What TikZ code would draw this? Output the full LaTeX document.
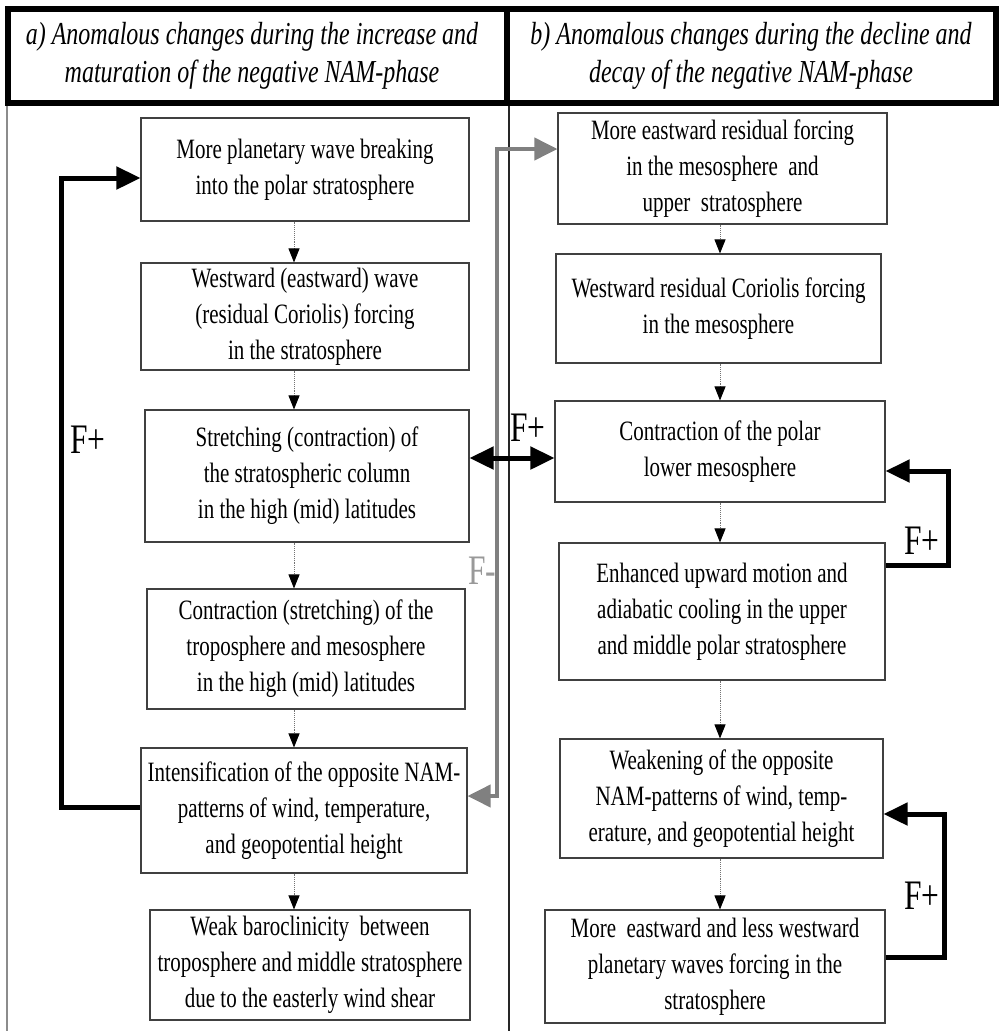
\documentclass[tikz,border=0pt]{standalone}
\usepackage{fontspec}
\setmainfont{Liberation Serif}[FakeStretch=0.75]
\usetikzlibrary{arrows.meta}
\tikzset{
  box/.style={draw=black!75, line width=1.1pt, align=center, inner sep=0pt, font=\fontsize{28}{36}\selectfont},
  hdr/.style={align=center, inner sep=0pt, font=\fontsize{32}{38}\selectfont\itshape},
  flow/.style={draw=black!55, densely dotted, line width=0.9pt, -{Triangle[length=14pt,width=11pt,color=black]}},
  fbloop/.style={draw=black, line width=5pt, line join=miter, -{Triangle[length=24pt,width=22pt]}},
  fbdouble/.style={draw=black, line width=5pt, {Triangle[length=24pt,width=22pt]}-{Triangle[length=24pt,width=22pt]}},
  grayloop/.style={draw=black!50, line width=4pt, line join=miter, {Triangle[length=23pt,width=22pt]}-{Triangle[length=23pt,width=22pt]}},
  flab/.style={inner sep=0pt, font=\fontsize{42}{42}\selectfont}
}
\begin{document}
\begin{tikzpicture}[x=1pt,y=-1pt]
\useasboundingbox (0,0) rectangle (1000,1031);
% frame
\draw[black!45, line width=1.5pt] (7,103) -- (7,1031);
\draw[black!85, line width=1.8pt] (509,103) -- (509,1031);
\draw[line width=6pt] (8,9) rectangle (996,103);
\draw[line width=6pt] (507,9) -- (507,103);
\node[hdr] (ha) at (252,56) {a) Anomalous changes during the increase and\\maturation of the negative NAM-phase};
\node[hdr] (hb) at (751,56) {b) Anomalous changes during the decline and\\decay of the negative NAM-phase};
% left column
\node[box, minimum width=328pt, minimum height=103pt] (b1) at (305,169.5) {More planetary wave breaking\\into the polar stratosphere};
\node[box, minimum width=328pt, minimum height=107pt] (b2) at (305,316.5) {Westward (eastward) wave\\(residual Coriolis) forcing\\in the stratosphere};
\node[box, minimum width=324pt, minimum height=132pt] (b3) at (307,476) {Stretching (contraction) of\\the stratospheric column\\in the high (mid) latitudes};
\node[box, minimum width=318pt, minimum height=120pt] (b4) at (306,649) {Contraction (stretching) of the\\troposphere and mesosphere\\in the high (mid) latitudes};
\node[box, minimum width=326pt, minimum height=125pt] (b5) at (304,810.5) {Intensification of the opposite NAM-\\patterns of wind, temperature,\\and geopotential height};
\node[box, minimum width=320pt, minimum height=110pt] (b6) at (310,965) {Weak baroclinicity\ \ between\\troposphere and middle stratosphere\\due to the easterly wind shear};
% right column
\node[box, minimum width=329pt, minimum height=111pt] (r1) at (722.5,168.5) {More eastward residual forcing\\in the mesosphere\ \ and\\upper\ \ stratosphere};
\node[box, minimum width=325pt, minimum height=109pt] (r2) at (718.5,308.5) {Westward residual Coriolis forcing\\in the mesosphere};
\node[box, minimum width=330pt, minimum height=101pt] (r3) at (720,451.5) {Contraction of the polar\\lower mesosphere};
\node[box, minimum width=326pt, minimum height=137pt] (r4) at (722,611.5) {Enhanced upward motion and\\adiabatic cooling in the upper\\and middle polar stratosphere};
\node[box, minimum width=323pt, minimum height=119pt] (r5) at (721.5,798.5) {Weakening of the opposite\\NAM-patterns of wind, temp-\\erature, and geopotential height};
\node[box, minimum width=340pt, minimum height=113pt] (r6) at (715,966.5) {More\ \ eastward and less westward\\planetary waves forcing in the\\stratosphere};
% flow arrows
\coordinate (dl) at (294,0);
\coordinate (dr) at (720,0);
\draw[flow] (b1.south -| dl) -- (b2.north -| dl);
\draw[flow] (b2.south -| dl) -- (b3.north -| dl);
\draw[flow] (b3.south -| dl) -- (b4.north -| dl);
\draw[flow] (b4.south -| dl) -- (b5.north -| dl);
\draw[flow] (b5.south -| dl) -- (b6.north -| dl);
\draw[flow] (r1.south -| dr) -- (r2.north -| dr);
\draw[flow] (r2.south -| dr) -- (r3.north -| dr);
\draw[flow] (r3.south -| dr) -- (r4.north -| dr);
\draw[flow] (r4.south -| dr) -- (r5.north -| dr);
\draw[flow] (r5.south -| dr) -- (r6.north -| dr);
% feedback loops
\coordinate (lb1) at (61,807);
\coordinate (lb2) at (61,178);
\draw[fbloop] (lb1 -| b5.west) -- (lb1) -- (lb2) -- (lb2 -| b1.west);
\node[flab] (fl) at (88,440) {F+};
\coordinate (g1) at (497,796);
\coordinate (g2) at (497,149);
\draw[grayloop] (g2 -| r1.west) -- (g2) -- (g1) -- (g1 -| b5.east);
\node[flab, text=black!40] (fm) at (482,571) {F-};
\coordinate (dm) at (510,458);
\draw[fbdouble] (dm -| b3.east) -- (dm -| r3.west);
\node[flab] (fc) at (528,428) {F+};
\coordinate (rl1) at (948,565);
\coordinate (rl2) at (948,471);
\draw[fbloop] (rl1 -| r4.east) -- (rl1) -- (rl2) -- (rl2 -| r3.east);
\node[flab] (fr1) at (922,541) {F+};
\coordinate (rl3) at (944,957);
\coordinate (rl4) at (944,814);
\draw[fbloop] (rl3 -| r6.east) -- (rl3) -- (rl4) -- (rl4 -| r5.east);
\node[flab] (fr2) at (922,896) {F+};
\end{tikzpicture}
\end{document}
